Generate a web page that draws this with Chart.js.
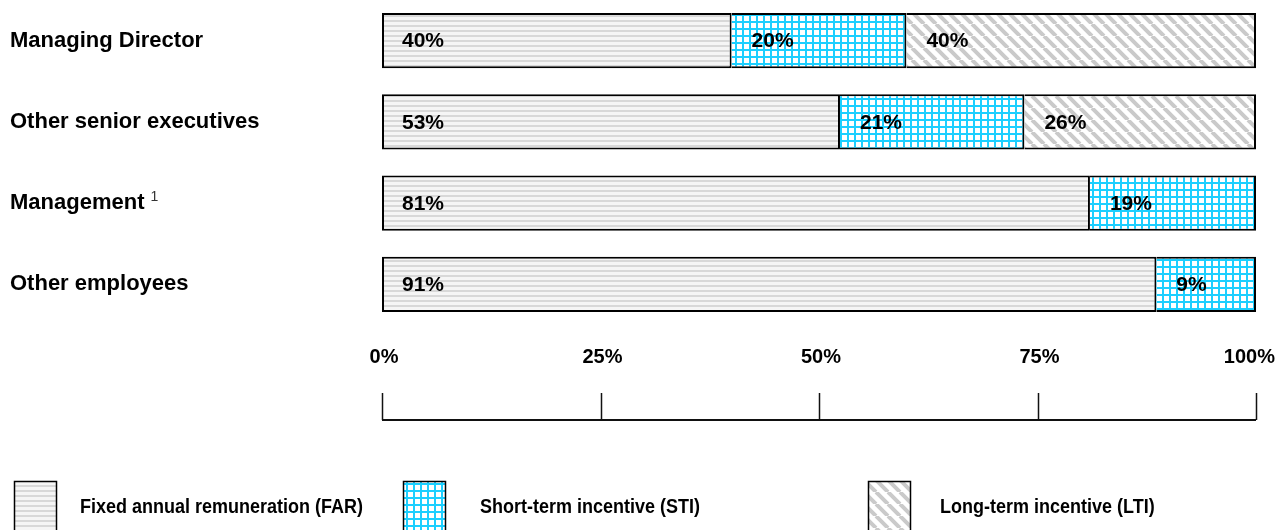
<!DOCTYPE html>
<html>
<head>
<meta charset="utf-8">
<script src="https://cdn.jsdelivr.net/npm/chart.js@4.4.1/dist/chart.umd.min.js"></script>
<style>
  body { margin: 0; background: #fff; }
  #wrap { width: 1276px; height: 530px; position: relative; }
</style>
</head>
<body>
<div id="wrap"><canvas id="mix"></canvas></div>
<script>
const categories = ['Managing Director', 'Other senior executives', 'Management', 'Other employees'];
// bar lengths as drawn (percent of total)
const farValues = [40, 52.4, 81, 88.6];
const stiValues = [20, 21.1, 19, 11.4];
const ltiValues = [40, 26.5, null, null];
// printed labels
const farLabels = ['40%', '53%', '81%', '91%'];
const stiLabels = ['20%', '21%', '19%', '9%'];
const ltiLabels = ['40%', '26%', '', ''];
const tickValues = [0, 25, 50, 75, 100];
const tickLabels = ['0%', '25%', '50%', '75%', '100%'];
const seriesNames = ['Fixed annual remuneration (FAR)', 'Short-term incentive (STI)', 'Long-term incentive (LTI)'];

const FONT = "'Liberation Sans', Arial, sans-serif";

function makeTile(w, h, draw) {
  const c = document.createElement('canvas');
  c.width = w; c.height = h;
  draw(c.getContext('2d'), w, h);
  return c.getContext('2d').createPattern(c, 'repeat');
}

const farPattern = makeTile(6, 5, (g, w, h) => {
  g.fillStyle = '#f5f5f5'; g.fillRect(0, 0, w, h);
  g.fillStyle = '#d8d8d8'; g.fillRect(0, 0, w, 2);
});
const stiPattern = makeTile(7, 7, (g, w, h) => {
  g.fillStyle = '#ffffff'; g.fillRect(0, 0, w, h);
  g.fillStyle = '#1ccfff';
  g.fillRect(0, 0, w, 2);
  g.fillRect(0, 0, 2, h);
});
const ltiPattern = makeTile(12, 12, (g, s) => {
  g.fillStyle = '#ffffff'; g.fillRect(0, 0, s, s);
  g.strokeStyle = '#cacaca'; g.lineWidth = 4;
  g.beginPath();
  for (let k = -1; k <= 1; k++) { g.moveTo(k * s, 0); g.lineTo(k * s + s, s); }
  g.stroke();
});
const patterns = [farPattern, stiPattern, ltiPattern];
const labelSets = [farLabels, stiLabels, ltiLabels];

// one 2px line between segments, 2px frame around the bar
function segBorder(c) {
  return { top: 2, bottom: 2, left: c.datasetIndex === 0 ? 2 : 0, right: 2 };
}

const ctx = document.getElementById('mix');

const extras = {
  id: 'extras',
  afterDatasetsDraw(chart) {
    const c = chart.ctx;
    c.save();
    c.font = 'bold 21px ' + FONT;
    c.fillStyle = '#000';
    c.textBaseline = 'middle';
    c.textAlign = 'left';
    chart.data.datasets.forEach((ds, i) => {
      chart.getDatasetMeta(i).data.forEach((bar, j) => {
        const txt = labelSets[i][j];
        if (!txt) return;
        c.fillText(txt, Math.min(bar.x, bar.base) + 20, bar.y + 1);
      });
    });
    c.restore();
  },
  afterDraw(chart) {
    const c = chart.ctx;
    const xs = chart.scales.x;
    const ys = chart.scales.y;
    c.save();
    // superscript on Management
    c.font = 'bold 22px ' + FONT;
    const mw = c.measureText(categories[2]).width;
    c.font = '14px ' + FONT;
    c.fillStyle = '#333';
    c.textBaseline = 'middle';
    c.fillText('1', ys.left + mw + 6, ys.getPixelForValue(2) - 6);

    // axis below, labels above the line
    c.font = 'bold 20px ' + FONT;
    c.fillStyle = '#000';
    c.textAlign = 'center';
    tickValues.forEach((v, i) => {
      const w = c.measureText(tickLabels[i]).width;
      const px = Math.min(xs.getPixelForValue(v) + 2, chart.width - w / 2 - 1);
      c.fillText(tickLabels[i], px, 357);
    });
    c.strokeStyle = '#111';
    c.lineWidth = 1.5;
    c.beginPath();
    tickValues.forEach(v => {
      const px = Math.round(xs.getPixelForValue(v)) + 0.5;
      c.moveTo(px, 393); c.lineTo(px, 420);
    });
    c.stroke();
    c.lineWidth = 2;
    c.beginPath();
    c.moveTo(xs.getPixelForValue(0), 420);
    c.lineTo(xs.getPixelForValue(100), 420);
    c.stroke();

    // legend
    const boxX = [14, 403, 868];
    const textX = [80, 480, 940];
    c.textAlign = 'left';
    c.font = 'bold 18px ' + FONT;
    seriesNames.forEach((name, i) => {
      c.fillStyle = patterns[i];
      c.fillRect(boxX[i], 481, 42, 52);
      c.strokeStyle = '#000';
      c.lineWidth = 1.5;
      c.strokeRect(boxX[i] + 0.5, 481.5, 42, 52);
      c.fillStyle = '#000';
      c.save();
      c.translate(textX[i], 507);
      c.scale(1, 1.12);
      c.fillText(name, 0, 0);
      c.restore();
    });
    c.restore();
  }
};

new Chart(ctx, {
  type: 'bar',
  data: {
    labels: categories,
    datasets: [
      { label: seriesNames[0], data: farValues, backgroundColor: farPattern },
      { label: seriesNames[1], data: stiValues, backgroundColor: stiPattern },
      { label: seriesNames[2], data: ltiValues, backgroundColor: ltiPattern }
    ]
  },
  options: {
    indexAxis: 'y',
    responsive: true,
    maintainAspectRatio: false,
    animation: false,
    datasets: {
      bar: {
        borderColor: '#000',
        borderWidth: segBorder,
        borderSkipped: false,
        barPercentage: 0.68,
        categoryPercentage: 1
      }
    },
    layout: { padding: { left: 10, right: 20, top: 0, bottom: 205 } },
    scales: {
      x: { stacked: true, min: 0, max: 100, display: false },
      y: {
        stacked: true,
        grid: { display: false },
        border: { display: false },
        afterFit(scale) {
          scale.width = 372;
          scale.paddingTop = 0;
          scale.paddingBottom = 0;
        },
        ticks: {
          crossAlign: 'far',
          color: '#000',
          font: { family: FONT, size: 22, weight: 'bold' }
        }
      }
    },
    plugins: {
      legend: { display: false },
      tooltip: { enabled: false }
    }
  },
  plugins: [extras]
});
</script>
</body>
</html>
